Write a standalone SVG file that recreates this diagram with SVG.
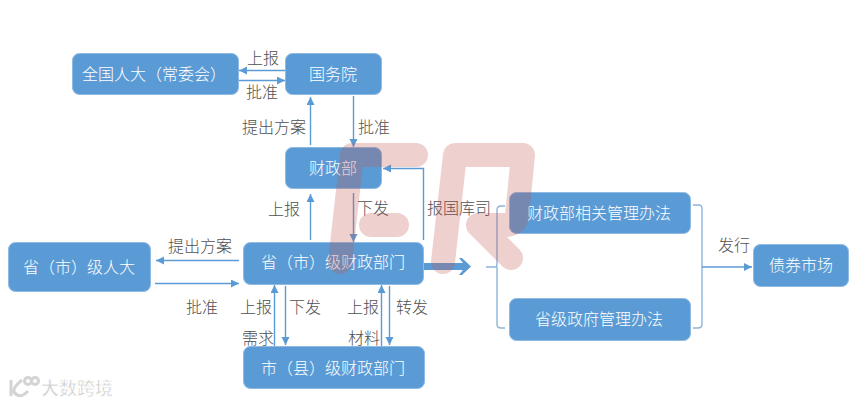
<svg xmlns="http://www.w3.org/2000/svg" width="858" height="405" viewBox="0 0 858 405">
<style>
text{font-family:"Noto Sans CJK SC","Noto Sans",sans-serif;font-size:16px;text-anchor:middle;font-weight:300}
.box{fill:#5b9bd5;stroke:#8fbbe3;stroke-width:1}
.nt{fill:#fff}
.lb{fill:#505050}
.c{fill:none;stroke:#5b9bd5;stroke-width:1.4}
.b{fill:none;stroke:#8db4dd;stroke-width:1.4}
.w{fill:none;stroke:#c0504d;stroke-opacity:.27;stroke-width:24;stroke-linecap:round;stroke-linejoin:round}
</style>
<defs>
<marker id="a" markerUnits="userSpaceOnUse" markerWidth="10" markerHeight="10" refX="8" refY="4" orient="auto"><path d="M0 0L8 4L0 8Z" fill="#5b9bd5"/></marker>
</defs>
<rect width="858" height="405" fill="#fff"/>
<g id="connectors">
<path class="c" marker-end="url(#a)" d="M285 70.500H239"/>
<path class="c" marker-end="url(#a)" d="M239 80.500H285"/>
<path class="c" marker-end="url(#a)" d="M310.500 145V97"/>
<path class="c" marker-end="url(#a)" d="M353.500 96V147"/>
<path class="c" marker-end="url(#a)" d="M310.500 240V194"/>
<path class="c" marker-end="url(#a)" d="M353.500 193V242"/>
<path class="c" marker-end="url(#a)" d="M423.500 240V168.500H383"/>
<path class="c" marker-end="url(#a)" d="M239 260.500H156"/>
<path class="c" marker-end="url(#a)" d="M155 283.500H239"/>
<path class="c" marker-end="url(#a)" d="M274.500 346V285"/>
<path class="c" marker-end="url(#a)" d="M285.500 286V345"/>
<path class="c" marker-end="url(#a)" d="M381.500 346V285"/>
<path class="c" marker-end="url(#a)" d="M389.500 286V345"/>
<path d="M424 263H463L459 258H462L471 266.500L462 275H459L463 270H424Z" fill="#5b9bd5"/>
<path class="b" d="M486 267H495Q497 267 497 264V210Q497 206 501 206H505M497 267V324Q497 328 501 328H505"/>
<path class="b" d="M693 205H699Q702 205 702 209V324Q702 328 698 328H693"/>
<path class="c" marker-end="url(#a)" d="M702 267H752"/>
</g>
<g id="n1"><rect class="box" x="72.500" y="53.500" width="166" height="41" rx="7"/><text class="nt" x="154" y="80">全国人大（常委会）</text></g>
<g id="n2"><rect class="box" x="285.500" y="53.500" width="96" height="41" rx="7"/><text class="nt" x="333" y="80">国务院</text></g>
<g id="n3"><rect class="box" x="285.500" y="147.500" width="96" height="41" rx="7"/><text class="nt" x="333" y="174">财政部</text></g>
<g id="n4"><rect class="box" x="8.500" y="242.500" width="142" height="49" rx="7"/><text class="nt" x="79" y="273">省（市）级人大</text></g>
<g id="n5"><rect class="box" x="243.500" y="242.500" width="180" height="42" rx="7"/><text class="nt" x="333" y="268">省（市）级财政部门</text></g>
<g id="n6"><rect class="box" x="243.500" y="346.500" width="181" height="42" rx="7"/><text class="nt" x="333" y="374">市（县）级财政部门</text></g>
<g id="n7"><rect class="box" x="509.500" y="192.500" width="181" height="41" rx="7"/><text class="nt" x="599" y="219">财政部相关管理办法</text></g>
<g id="n8"><rect class="box" x="509.500" y="298.500" width="181" height="42" rx="7"/><text class="nt" x="599" y="325">省级政府管理办法</text></g>
<g id="n9"><rect class="box" x="753.500" y="244.500" width="95" height="42" rx="7"/><text class="nt" x="801" y="271">债券市场</text></g>
<g id="labels">
<text class="lb" x="263" y="64">上报</text>
<text class="lb" x="262" y="98">批准</text>
<text class="lb" x="274" y="133">提出方案</text>
<text class="lb" x="374" y="133">批准</text>
<text class="lb" x="284" y="215">上报</text>
<text class="lb" x="373" y="214">下发</text>
<text class="lb" x="459" y="214">报国库司</text>
<text class="lb" x="200" y="252">提出方案</text>
<text class="lb" x="202" y="313">批准</text>
<text class="lb" x="256" y="313">上报</text>
<text class="lb" x="305" y="313">下发</text>
<text class="lb" x="363" y="313">上报</text>
<text class="lb" x="412" y="313">转发</text>
<text class="lb" x="258" y="344">需求</text>
<text class="lb" x="364" y="344">材料</text>
<text class="lb" x="734" y="251">发行</text>
</g>
<g id="watermark">
<path class="w" d="M416 155H352L340 262M371 225H397"/>
<path class="w" d="M443 262L455 155H523L517 216Q516 225 505 225H478M478 225L511 258"/>
<g fill="none" stroke="#d4d4d4" stroke-width="3"><path d="M11 380V396M22 380Q13 387 14 392Q20 400 28 391"/><circle cx="28" cy="381" r="3.500"/><circle cx="35" cy="381" r="3.500"/></g>
<text x="77" y="395" style="font-size:18px;font-weight:700;fill:#d0d0d0;stroke:#fff;stroke-width:.8">大数跨境</text>
</g>
</svg>
